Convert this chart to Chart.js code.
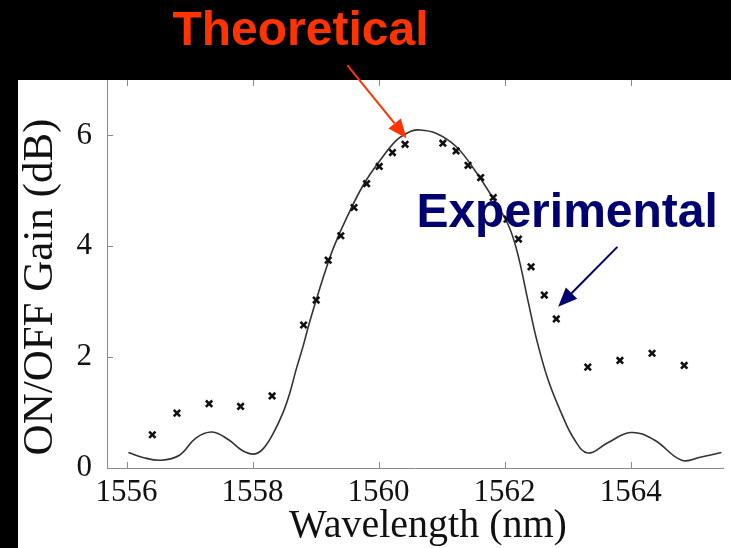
<!DOCTYPE html>
<html>
<head>
<meta charset="utf-8">
<script src="https://cdn.jsdelivr.net/npm/chart.js@4.4.1/dist/chart.umd.min.js"></script>
<style>
  html, body { margin: 0; padding: 0; background: #000; }
  #wrap { width: 731px; height: 548px; }
</style>
</head>
<body>
<div id="wrap"><canvas id="c" width="731" height="548"></canvas></div>
<script>
// Measured ON/OFF gain (dB) versus wavelength (nm)
const wavelengthExp = [1556.41, 1556.80, 1557.31, 1557.81, 1558.31, 1558.81, 1559.01, 1559.20,
  1559.40, 1559.61, 1559.81, 1560.01, 1560.22, 1560.42, 1561.02, 1561.23, 1561.42, 1561.62,
  1561.82, 1562.04, 1562.22, 1562.42, 1562.63, 1562.82, 1563.32, 1563.83, 1564.34, 1564.85];
const gainExp = [0.60, 0.99, 1.16, 1.11, 1.30, 2.58, 3.03, 3.75,
  4.19, 4.70, 5.13, 5.44, 5.69, 5.84, 5.86, 5.72, 5.46, 5.24,
  4.88, 4.49, 4.13, 3.63, 3.12, 2.69, 1.82, 1.94, 2.07, 1.85];

// Theoretical gain spectrum
const wavelengthTheory = [1556.03, 1556.26, 1556.55, 1556.84, 1557.10, 1557.36, 1557.62, 1557.83,
  1558.02, 1558.17, 1558.33, 1558.48, 1558.59, 1558.69, 1558.80, 1558.90, 1559.01, 1559.16,
  1559.29, 1559.50, 1559.76, 1560.03, 1560.29, 1560.50, 1560.63, 1560.91, 1561.23, 1561.54,
  1561.83, 1562.06, 1562.20, 1562.38, 1562.51, 1562.69, 1562.90, 1563.11, 1563.32, 1563.63,
  1564.00, 1564.37, 1564.81, 1565.12, 1565.44];
const gainTheory = [0.28, 0.19, 0.14, 0.23, 0.54, 0.65, 0.51, 0.32,
  0.25, 0.35, 0.63, 0.99, 1.35, 1.77, 2.19, 2.61, 3.03, 3.57,
  3.99, 4.53, 5.11, 5.56, 5.92, 6.07, 6.10, 6.04, 5.80, 5.35,
  4.84, 4.38, 3.90, 2.97, 2.31, 1.59, 0.99, 0.51, 0.27, 0.45,
  0.64, 0.51, 0.14, 0.20, 0.28];

const xTicks = [1556, 1558, 1560, 1562, 1564];
const yTicks = [0, 2, 4, 6];

// Callout labels and arrows, in data units
const callouts = [
  { text: 'Theoretical', color: '#FF3300', x: 1558.76, y: 7.63, align: 'center',
    from: [1559.503, 7.27], to: [1560.444, 5.95] },
  { text: 'Experimental', color: '#000070', x: 1560.60, y: 4.35, align: 'left',
    from: [1563.79, 3.99], to: [1562.85, 2.91] }
];

const AXIS_GREY = '#8a8a8a';
const SERIF = '"Liberation Serif", "Times New Roman", serif';

const framePlugin = {
  id: 'frame',
  beforeDraw(chart) {
    const ctx = chart.ctx;
    ctx.save();
    ctx.fillStyle = '#000';
    ctx.fillRect(0, 0, chart.width, chart.height);
    ctx.fillStyle = '#fff';
    ctx.fillRect(18, 80, chart.width - 18, chart.height - 80);
    ctx.restore();
  },
  afterDraw(chart) {
    const ctx = chart.ctx;
    const area = chart.chartArea;
    const xs = chart.scales.x, ys = chart.scales.y;
    ctx.save();
    // inward tick marks on bottom, top and left edges
    ctx.strokeStyle = AXIS_GREY;
    ctx.lineWidth = 1;
    ctx.beginPath();
    xTicks.forEach(v => {
      const px = Math.round(xs.getPixelForValue(v)) + 0.5;
      ctx.moveTo(px, area.bottom); ctx.lineTo(px, area.bottom - 6);
      ctx.moveTo(px, area.top); ctx.lineTo(px, area.top + 6);
    });
    yTicks.forEach(v => {
      const py = Math.round(ys.getPixelForValue(v)) + 0.5;
      ctx.moveTo(area.left, py); ctx.lineTo(area.left + 6, py);
    });
    ctx.stroke();

    // axis titles
    ctx.fillStyle = '#111';
    ctx.font = '40px ' + SERIF;
    ctx.textAlign = 'center';
    ctx.textBaseline = 'alphabetic';
    ctx.fillText('Wavelength (nm)', 428, 537);
    ctx.save();
    ctx.translate(52, 287);
    ctx.rotate(-Math.PI / 2);
    ctx.font = '43px ' + SERIF;
    ctx.fillText('ON/OFF Gain (dB)', 0, 0);
    ctx.restore();

    // callout arrows and labels
    callouts.forEach(c => {
      const x0 = xs.getPixelForValue(c.from[0]), y0 = ys.getPixelForValue(c.from[1]);
      const x1 = xs.getPixelForValue(c.to[0]), y1 = ys.getPixelForValue(c.to[1]);
      const ang = Math.atan2(y1 - y0, x1 - x0);
      const headLen = 19, headHalf = 8;
      const bx = x1 - headLen * Math.cos(ang), by = y1 - headLen * Math.sin(ang);
      ctx.strokeStyle = c.color;
      ctx.fillStyle = c.color;
      ctx.lineWidth = 2;
      ctx.beginPath();
      ctx.moveTo(x0, y0); ctx.lineTo(bx, by);
      ctx.stroke();
      ctx.beginPath();
      ctx.moveTo(x1, y1);
      ctx.lineTo(bx + headHalf * Math.sin(ang), by - headHalf * Math.cos(ang));
      ctx.lineTo(bx - headHalf * Math.sin(ang), by + headHalf * Math.cos(ang));
      ctx.closePath();
      ctx.fill();

      ctx.font = 'bold 48px "Liberation Sans", Arial, sans-serif';
      ctx.textAlign = c.align;
      ctx.textBaseline = 'alphabetic';
      ctx.fillText(c.text, xs.getPixelForValue(c.x), ys.getPixelForValue(c.y));
    });
    ctx.restore();
  }
};

new Chart(document.getElementById('c'), {
  type: 'scatter',
  data: {
    datasets: [
      {
        label: 'Theoretical',
        type: 'line',
        data: wavelengthTheory.map((x, i) => ({ x, y: gainTheory[i] })),
        borderColor: '#333',
        borderWidth: 1.6,
        pointRadius: 0,
        tension: 0.4,
        fill: false,
        order: 2
      },
      {
        label: 'Experimental',
        data: wavelengthExp.map((x, i) => ({ x, y: gainExp[i] })),
        pointStyle: 'crossRot',
        pointRadius: 4.5,
        borderWidth: 2.6,
        borderColor: '#111',
        backgroundColor: '#111',
        order: 1
      }
    ]
  },
  options: {
    responsive: false,
    animation: false,
    devicePixelRatio: 1,
    layout: { padding: { top: 80, left: 18, right: 0, bottom: 0 } },
    plugins: { legend: { display: false }, tooltip: { enabled: false } },
    scales: {
      x: {
        type: 'linear',
        min: 1555.69,
        max: 1565.48,
        afterBuildTicks(s) { s.ticks = xTicks.map(v => ({ value: v })); },
        afterFit(s) { s.height = 80; s.paddingLeft = 0; s.paddingRight = 0; },
        grid: { display: true, drawOnChartArea: false, drawTicks: false },
        border: { display: true, color: AXIS_GREY, width: 1 },
        ticks: {
          color: '#111',
          font: { family: SERIF, size: 31 },
          padding: 6,
          maxRotation: 0,
          callback: v => String(v)
        }
      },
      y: {
        min: 0,
        max: 7,
        afterBuildTicks(s) { s.ticks = yTicks.map(v => ({ value: v })); },
        afterFit(s) { s.width = 89; },
        grid: { display: true, drawOnChartArea: false, drawTicks: false },
        border: { display: true, color: AXIS_GREY, width: 1 },
        ticks: {
          color: '#111',
          font: { family: SERIF, size: 31 },
          padding: 15,
          callback: v => String(v)
        }
      }
    }
  },
  plugins: [framePlugin]
});
</script>
</body>
</html>
